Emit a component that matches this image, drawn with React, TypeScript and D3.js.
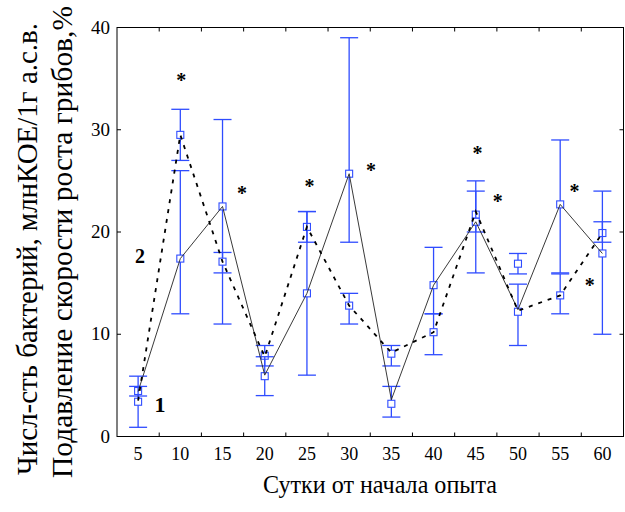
import React from "react";
import * as d3 from "d3";

const days = [5, 10, 15, 20, 25, 30, 35, 40, 45, 50, 55, 60];
const yTicks = [0, 10, 20, 30, 40];
const xBoundaries = [7.5, 12.5, 17.5, 22.5, 27.5, 32.5, 37.5, 42.5, 47.5, 52.5, 57.5];

// line vertices
const lineSolid = [4.4, 17.4, 22.5, 6.0, 14.0, 25.7, 3.6, 14.8, 21.0, 12.4, 22.7, 17.9];
const lineDashed = [3.5, 29.5, 17.1, 7.8, 20.5, 12.8, 8.2, 10.2, 22.0, 12.3, 13.8, 19.9];

// markers (means) with error bounds
const meanA = [4.45, 29.5, 22.5, 7.9, 20.5, 25.7, 8.1, 14.8, 21.7, 16.9, 22.7, 19.9];
const lowA = [3.96, 27, 11, 6.9, 19, 19, 6.9, 12, 20, 15.9, 16, 19];
const highA = [4.9, 32, 31, 8.9, 22, 39, 8.9, 18.5, 24, 17.9, 29, 21];
const meanB = [3.4, 17.4, 17.1, 5.9, 14.0, 12.8, 3.2, 10.2, 21.0, 12.2, 13.8, 17.9];
const lowB = [0.9, 12, 16, 4.0, 6, 11, 1.9, 8, 16, 8.9, 12, 10];
const highB = [5.9, 26, 18, 7.8, 22, 14, 4.9, 12, 25, 14.9, 15.9, 24];

// significance stars (day position, value)
const starDays = [10.1, 17.3, 25.3, 32.6, 45.2, 47.6, 56.7, 58.5];
const starVals = [35.2, 24.1, 24.8, 26.4, 28.0, 23.3, 24.3, 15.1];

const seriesLabels = ["1", "2"];
const xTitle = "Сутки от начала опыта";
const yTitle1 = "Числ-сть бактерий, млнКОЕ/1г а.с.в.";
const yTitle2 = "Подавление скорости роста грибов,%";

const W = 625;
const H = 512;
const L = 117;
const R = 623.5;
const T = 27.5;
const B = 436.5;

const serif = "Liberation Serif";
const blue = "#2f4cff";

export default function App() {
  const x = d3.scaleLinear().domain([2.5, 62.5]).range([L, R]);
  const y = d3.scaleLinear().domain([0, 40]).range([B, T]);

  const lineGen = d3
    .line<number>()
    .x((_, i) => x(days[i]))
    .y((d) => y(d));

  const bars = (means: number[], lows: number[], highs: number[], key: string) =>
    means.map((m, i) => {
      const cx = x(days[i]);
      return (
        <g key={key + i} stroke={blue} strokeWidth={1.3} fill="none">
          <line x1={cx} x2={cx} y1={y(lows[i])} y2={y(highs[i])} />
          <line x1={cx - 9} x2={cx + 9} y1={y(lows[i])} y2={y(lows[i])} />
          <line x1={cx - 9} x2={cx + 9} y1={y(highs[i])} y2={y(highs[i])} />
          <rect x={cx - 3.5} y={y(m) - 3.5} width={7} height={7} fill="white" strokeWidth={1.1} />
        </g>
      );
    });

  return (
    <svg
      width={W}
      height={H}
      style={{ position: "absolute", left: 0, top: 0, background: "white" }}
    >
      <rect x={0} y={0} width={W} height={H} fill="white" />

      {/* y titles */}
      <text
        transform={`translate(37,475) rotate(-90)`}
        fontFamily={serif}
        fontSize={29}
        textLength={452}
        lengthAdjust="spacingAndGlyphs"
        fill="black"
      >
        {yTitle1}
      </text>
      <text
        transform={`translate(72,478) rotate(-90)`}
        fontFamily={serif}
        fontSize={29}
        textLength={472}
        lengthAdjust="spacingAndGlyphs"
        fill="black"
      >
        {yTitle2}
      </text>

      {/* x title */}
      <text
        x={263}
        y={493}
        fontFamily={serif}
        fontSize={26}
        textLength={234}
        lengthAdjust="spacingAndGlyphs"
        fill="black"
      >
        {xTitle}
      </text>

      {/* frame */}
      <rect x={L} y={T} width={R - L} height={B - T} fill="none" stroke="black" strokeWidth={1} />

      {/* ticks */}
      {xBoundaries.map((b) => (
        <g key={"xb" + b} stroke="black" strokeWidth={1}>
          <line x1={x(b)} x2={x(b)} y1={B} y2={B - 4} />
          <line x1={x(b)} x2={x(b)} y1={T} y2={T + 4} />
        </g>
      ))}
      {yTicks.slice(1, -1).map((t) => (
        <g key={"yt" + t} stroke="black" strokeWidth={1}>
          <line x1={L} x2={L + 4} y1={y(t)} y2={y(t)} />
          <line x1={R} x2={R - 4} y1={y(t)} y2={y(t)} />
        </g>
      ))}

      {/* tick labels */}
      {yTicks.map((t) => (
        <text key={"yl" + t} x={110} y={y(t) + 6} fontFamily={serif} fontSize={19} textAnchor="end" fill="black">
          {t}
        </text>
      ))}
      {days.map((dd) => (
        <text key={"xl" + dd} x={x(dd)} y={460} fontFamily={serif} fontSize={18} textAnchor="middle" fill="black">
          {dd}
        </text>
      ))}

      {/* error bars + markers */}
      {bars(meanA, lowA, highA, "a")}
      {bars(meanB, lowB, highB, "b")}

      {/* lines */}
      <path d={lineGen(lineSolid) as string} fill="none" stroke="#222" strokeWidth={0.9} />
      <path
        d={lineGen(lineDashed) as string}
        fill="none"
        stroke="black"
        strokeWidth={1.8}
        strokeDasharray="4 6"
      />

      {/* stars */}
      {starDays.map((sd, i) => (
        <text
          key={"st" + i}
          x={x(sd)}
          y={y(starVals[i]) + 10}
          fontFamily={serif}
          fontSize={20}
          fontWeight="bold"
          textAnchor="middle"
          fill="black"
        >
          *
        </text>
      ))}

      {/* series labels */}
      <text x={160} y={412} fontFamily={serif} fontSize={22} fontWeight="bold" textAnchor="middle" fill="black">
        {seriesLabels[0]}
      </text>
      <text x={140} y={263} fontFamily={serif} fontSize={20} fontWeight="bold" textAnchor="middle" fill="black">
        {seriesLabels[1]}
      </text>
    </svg>
  );
}
